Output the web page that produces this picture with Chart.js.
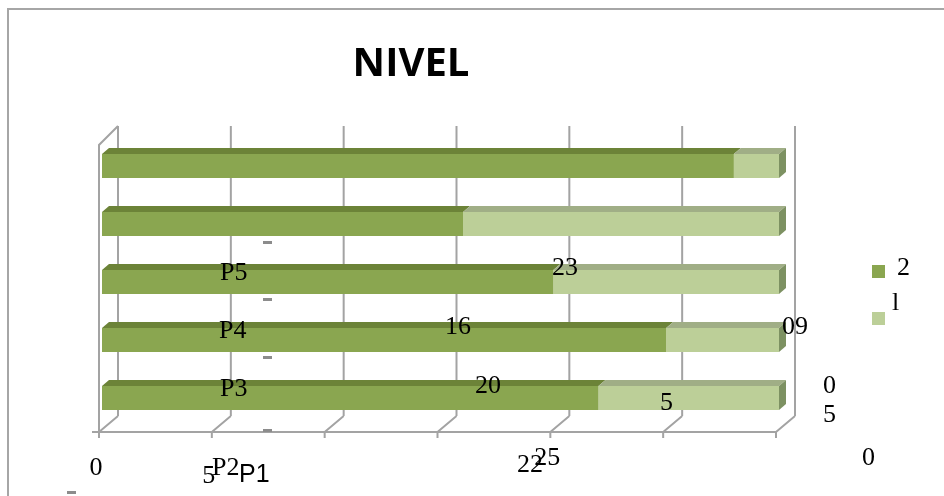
<!DOCTYPE html>
<html>
<head>
<meta charset="utf-8">
<script src="https://cdn.jsdelivr.net/npm/chart.js@4/dist/chart.umd.min.js"></script>
<style>
  html, body { margin: 0; padding: 0; background: #fff; }
  #wrap { width: 944px; height: 496px; }
</style>
</head>
<body>
<div id="wrap"><canvas id="chart"></canvas></div>
<script>
// Data
const categories = ['P1', 'P2', 'P3', 'P4', 'P5'];
const series2 = [22, 25, 20, 16, 28];
const seriesL = [8, 5, 10, 14, 2];
const seriesNames = ['2', 'l'];
const xTicks = [0, 5, 10, 15, 20, 25, 30];
const xTickLabels = ['0', '5', '', '', '25', '', ''];

// Colours
const DARK = '#8aa650';
const DARK_TOP = '#6c8338';
const LIGHT = '#bccf98';
const LIGHT_TOP = '#a0ae86';
const SIDE = '#7d9162';
const GRID = '#a3a3a3';

// 3D depth
const WALL_DX = 19, WALL_DY = 16;
const BAR_DX = 7, BAR_DY = 6;

const SERIF = '"Liberation Serif", "DejaVu Serif", serif';

// leftover labels of the original picture, where they ended up
const strayText = [
  { t: 'P5', x: 220, y: 280 },
  { t: 'P4', x: 219, y: 338 },
  { t: 'P3', x: 220, y: 396 },
  { t: 'P2', x: 212, y: 475 },
  { t: '23', x: 552, y: 275 },
  { t: '16', x: 445, y: 334 },
  { t: '20', x: 475, y: 393 },
  { t: '5', x: 660, y: 410 },
  { t: '09', x: 782, y: 334 },
  { t: '0', x: 823, y: 393 },
  { t: '5', x: 823, y: 422 },
  { t: '0', x: 862, y: 465 },
  { t: '22', x: 517, y: 472 }
];
const dashes = [[263, 241], [263, 298], [263, 356], [263, 429], [67, 491]];
// baseline of each x tick label
const tickLabelY = [475, 483, 0, 0, 465, 0, 0];

const wall3d = {
  id: 'wall3d',
  beforeDatasetsDraw(chart) {
    const ctx = chart.ctx;
    const xs = chart.scales.x;
    const area = chart.chartArea;
    const top = area.top - 11;
    const floor = area.bottom + 5;
    ctx.save();
    ctx.strokeStyle = GRID;
    ctx.lineWidth = 2;
    ctx.beginPath();
    xTicks.forEach((v) => {
      const px = xs.getPixelForValue(v) - 3;
      // back wall line
      ctx.moveTo(px + WALL_DX, top);
      ctx.lineTo(px + WALL_DX, floor - WALL_DY);
      // floor diagonal
      ctx.moveTo(px, floor);
      ctx.lineTo(px + WALL_DX, floor - WALL_DY);
      // front tick
      ctx.moveTo(px, floor);
      ctx.lineTo(px, floor + 6);
    });
    // left side wall
    const p0 = xs.getPixelForValue(xTicks[0]) - 3;
    const pn = xs.getPixelForValue(xTicks[xTicks.length - 1]) - 3;
    ctx.moveTo(p0 + WALL_DX, top);
    ctx.lineTo(p0, top + WALL_DY + 3);
    ctx.lineTo(p0, floor);
    ctx.moveTo(p0 - 7, floor);
    ctx.lineTo(pn, floor);
    ctx.stroke();
    ctx.restore();
  },
  afterDatasetsDraw(chart) {
    const ctx = chart.ctx;
    ctx.save();
    const last = chart.data.datasets.length - 1;
    chart.data.datasets.forEach((ds, di) => {
      const meta = chart.getDatasetMeta(di);
      meta.data.forEach((bar) => {
        const p = bar.getProps(['x', 'y', 'base', 'height'], true);
        const t = p.y - p.height / 2;
        const b = p.y + p.height / 2;
        const l = Math.min(p.base, p.x);
        const r = Math.max(p.base, p.x);
        ctx.fillStyle = di === 0 ? DARK_TOP : LIGHT_TOP;
        ctx.beginPath();
        ctx.moveTo(l, t);
        ctx.lineTo(l + BAR_DX, t - BAR_DY);
        ctx.lineTo(r + BAR_DX, t - BAR_DY);
        ctx.lineTo(r, t);
        ctx.closePath();
        ctx.fill();
        if (di === last) {
          ctx.fillStyle = SIDE;
          ctx.beginPath();
          ctx.moveTo(r, t);
          ctx.lineTo(r + BAR_DX, t - BAR_DY);
          ctx.lineTo(r + BAR_DX, b - BAR_DY);
          ctx.lineTo(r, b);
          ctx.closePath();
          ctx.fill();
        }
      });
    });
    ctx.restore();
  },
  afterDraw(chart) {
    const ctx = chart.ctx;
    const xs = chart.scales.x;
    ctx.save();

    // frame
    ctx.strokeStyle = '#a6a6a6';
    ctx.lineWidth = 2;
    ctx.strokeRect(8, 9, 1000, 1000);

    // title
    ctx.fillStyle = '#000';
    ctx.font = 'bold 40px "Open Sans", "Liberation Sans", sans-serif';
    ctx.textAlign = 'center';
    ctx.textBaseline = 'alphabetic';
    ctx.fillText('NIVEL', 411, 76);

    // x tick labels
    ctx.font = '26px ' + SERIF;
    xTicks.forEach((v, i) => {
      if (!xTickLabels[i]) return;
      ctx.fillText(xTickLabels[i], xs.getPixelForValue(v) - 6, tickLabelY[i]);
    });

    // stray labels
    ctx.textAlign = 'left';
    strayText.forEach((s) => ctx.fillText(s.t, s.x, s.y));
    ctx.font = '25px "Liberation Sans", Arial, sans-serif';
    ctx.fillText(categories[0], 239, 482);

    // little dashes
    ctx.fillStyle = '#8c8c8c';
    dashes.forEach((d) => ctx.fillRect(d[0], d[1], 9, 3));

    // legend
    const colors = [DARK, LIGHT];
    const boxY = [265, 312];
    const textPos = [[897, 275], [892, 310]];
    ctx.font = '26px ' + SERIF;
    seriesNames.forEach((name, i) => {
      ctx.fillStyle = colors[i];
      ctx.fillRect(872, boxY[i], 13, 13);
      ctx.fillStyle = '#000';
      ctx.fillText(name, textPos[i][0], textPos[i][1]);
    });
    ctx.restore();
  }
};

const setup = () => {
  const chartElement = document.getElementById('chart').getContext('2d');
  new Chart(chartElement, {
    type: 'bar',
    data: {
      labels: categories,
      datasets: [
        { label: seriesNames[0], data: series2, backgroundColor: DARK },
        { label: seriesNames[1], data: seriesL, backgroundColor: LIGHT }
      ]
    },
    options: {
      indexAxis: 'y',
      responsive: true,
      maintainAspectRatio: false,
      animation: false,
      layout: { padding: { left: 102, right: 165, top: 137, bottom: 69 } },
      datasets: { bar: { barPercentage: 0.414, categoryPercentage: 1 } },
      scales: {
        x: { stacked: true, min: 0, max: 30, display: false },
        y: { stacked: true, reverse: true, display: false }
      },
      plugins: {
        legend: { display: false },
        title: { display: false },
        tooltip: { enabled: false }
      }
    },
    plugins: [wall3d]
  });
};

window.addEventListener('load', setup);
</script>
</body>
</html>
